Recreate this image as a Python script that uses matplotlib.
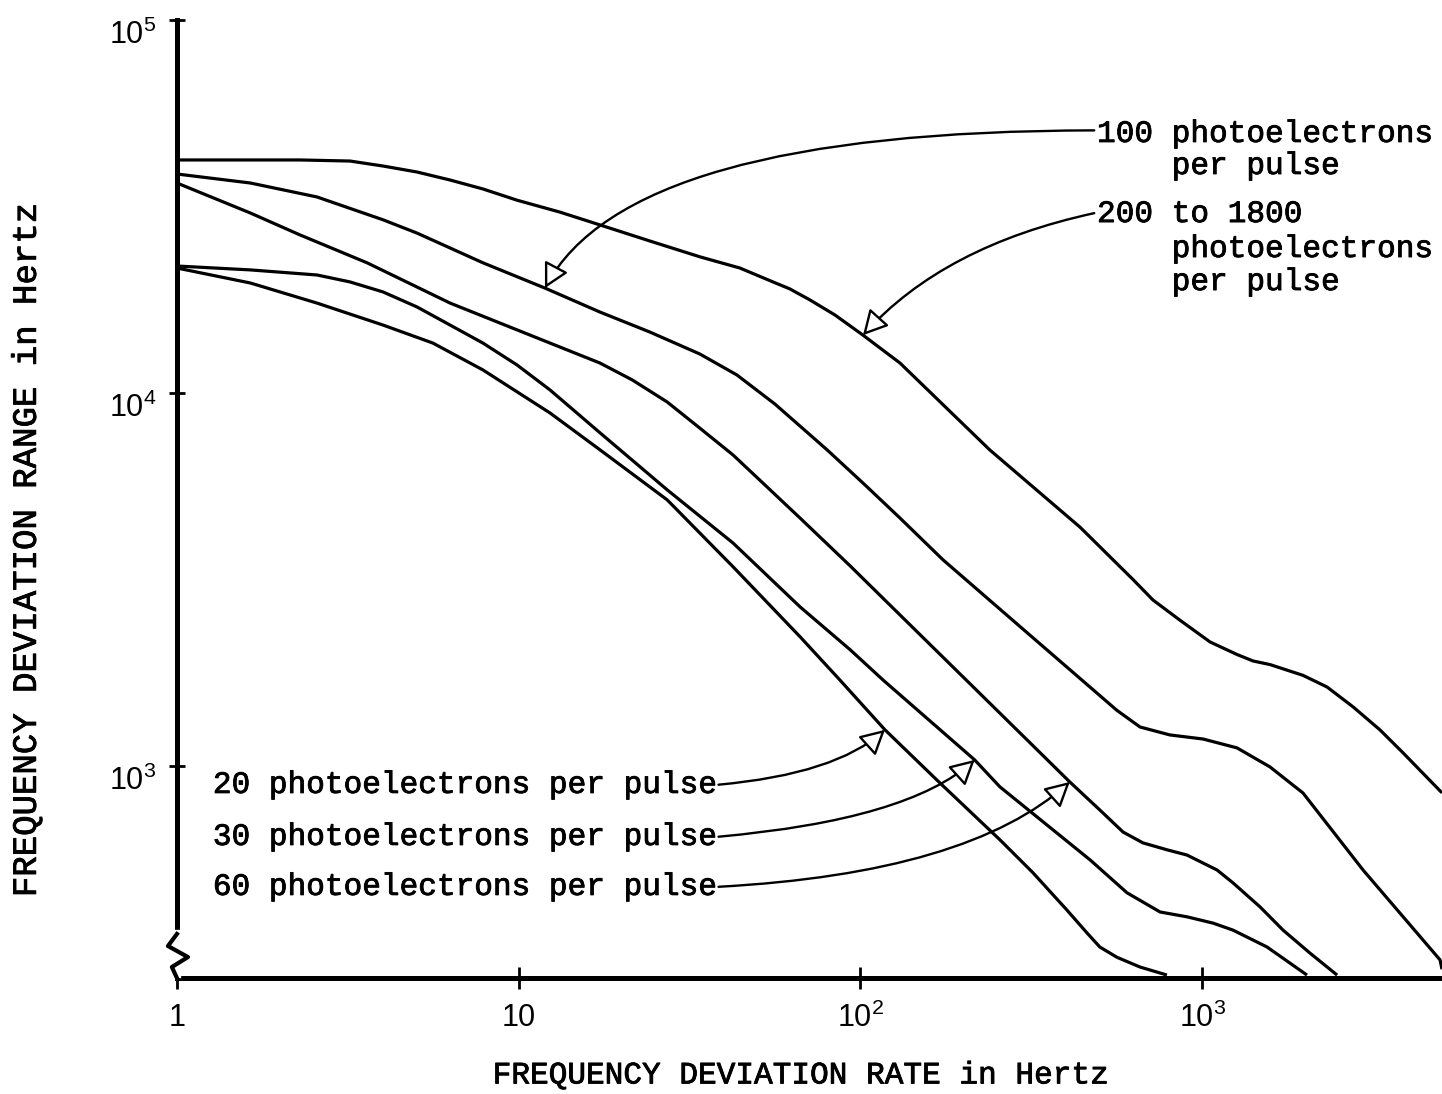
import numpy as np
import matplotlib.pyplot as plt
import matplotlib.patheffects as pe

plt.rcParams['mathtext.fontset'] = 'custom'
plt.rcParams['mathtext.rm'] = 'Liberation Sans'
plt.rcParams['mathtext.default'] = 'rm'

# deviation rate (Hz) vs. deviation range (Hz), one curve per photoelectron count
rate_200_1800 = [1, 1.64, 2.29, 3.21, 4.01, 5.04, 6.30, 7.86, 9.89, 13.2, 17.3, 24.2, 33.9, 44.4,
                 55.5, 62.2, 71.2, 84.3, 101.8, 130.6, 239, 439, 628, 718, 861, 1055, 1265,
                 1409, 1580, 1972, 2321, 2766, 3316, 3874, 5035]
range_200_1800 = [42150, 42150, 42150, 41870, 40600, 39130, 37240, 35240, 32880, 30550, 28220, 25560, 23180, 21630,
                  19850, 19010, 17760, 16180, 14290, 12030, 7040, 4370, 3160, 2786, 2460, 2150, 1990,
                  1912, 1870, 1750, 1628, 1440, 1249, 1084, 847]

rate_100 = [1, 1.64, 2.57, 4.01, 5.04, 7.86, 11.94, 17.3, 24.2, 33.9, 43.5, 56.2, 79.9, 103.2,
            130.6, 174.5, 313, 563, 658, 805, 1006, 1265, 1580, 1974, 2958, 4969, 5035]
range_100 = [38650, 36560, 33540, 29130, 26840, 22340, 19110, 16480, 14570, 12720, 11180, 9343, 7040, 5667,
             4620, 3570, 2245, 1410, 1272, 1211, 1181, 1118, 994, 846, 526, 302, 285]

rate_60 = [1, 1.64, 2.29, 3.60, 6.30, 12.35, 17.3, 21.5, 27.2, 33.9, 42.4, 53.3, 66.6, 93.3,
           130.6, 232, 410, 502, 587, 671, 789, 903, 1106, 1231, 1477, 1725, 2068, 2483]
range_60 = [36560, 30380, 26540, 22340, 17420, 13610, 12030, 10840, 9460, 8050, 6820, 5600, 4620, 3440,
            2540, 1514, 906, 762, 665, 622, 596, 577, 526, 486, 419, 363, 315, 275]

rate_30 = [1, 1.64, 2.57, 3.21, 4.01, 5.04, 6.30, 7.86, 9.89, 12.35, 17.3, 27.2, 42.4, 66.6,
           93.3, 116.5, 216, 256, 470, 603, 753, 903, 1076, 1231, 1549, 2027]
range_30 = [21900, 21380, 20720, 19850, 18660, 17010, 15210, 13610, 11890, 10190, 7820, 5500, 3960, 2670,
            2050, 1700, 1038, 879, 560, 457, 406, 394, 379, 363, 327, 275]

rate_20 = [1, 1.64, 2.57, 4.01, 5.61, 7.86, 12.35, 17.3, 27.2, 42.4, 66.6, 87.1, 118, 171,
           256, 320, 402, 460, 502, 563, 658, 789]
range_20 = [21630, 19720, 17420, 15210, 13610, 11530, 8840, 7040, 5170, 3420, 2220, 1700, 1250, 900,
            634, 517, 411, 357, 327, 307, 289, 275]

x_ticks = [1, 10, 100, 1000]
x_tick_labels = ['1', '10', '$10^2$', '$10^3$']
y_ticks = [1e3, 1e4, 1e5]
y_tick_labels = ['$10^3$', '$10^4$', '$10^5$']

# typewriter lettering: regular Courier-style face, slightly thickened
INK = [pe.withStroke(linewidth=0.6, foreground='black')]
TYPE = dict(family='Liberation Mono', fontsize=22.4, path_effects=INK)


def on_curve(rate, rng, x):
    """y of a curve at rate x, read along the log-log polyline"""
    return 10 ** np.interp(np.log10(x), np.log10(rate), np.log10(rng))


fig = plt.figure(figsize=(14.42, 10.94), dpi=100)
ax = fig.add_axes([0.1227, 0.1060, 0.8773, 0.8757])
ax.set_xscale('log')
ax.set_yscale('log')
ax.set_xlim(1, 5035)
ax.set_ylim(270, 1e5)

for spine in ['top', 'right']:
    ax.spines[spine].set_visible(False)
for spine in ['left', 'bottom']:
    ax.spines[spine].set_linewidth(3.6)

ax.set_xticks(x_ticks)
ax.set_xticklabels(x_tick_labels)
ax.set_yticks(y_ticks)
ax.set_yticklabels(y_tick_labels)
ax.xaxis.set_minor_locator(plt.NullLocator())
ax.yaxis.set_minor_locator(plt.NullLocator())
ax.tick_params(axis='x', direction='inout', length=16, width=2, pad=10, labelsize=22)
ax.tick_params(axis='y', direction='inout', length=12, width=2, pad=9, labelsize=22)
for lbl in ax.get_yticklabels():
    lbl.set_verticalalignment('top')
for lbl in ax.get_xticklabels() + ax.get_yticklabels():
    lbl.set_family('Liberation Sans')

# broken-axis mark near the bottom of the y axis
ax.plot([0, 0], [0.004, 0.046], transform=ax.transAxes, color='white', lw=6,
        clip_on=False, zorder=5)
ax.plot([0, -0.0071, 0.0087, -0.0040, 0.0], [0.046, 0.0334, 0.0219, 0.0115, 0.0],
        transform=ax.transAxes, color='black', lw=3, clip_on=False, zorder=6,
        solid_joinstyle='round')

curves = [(rate_200_1800, range_200_1800), (rate_100, range_100), (rate_60, range_60),
          (rate_30, range_30), (rate_20, range_20)]
for rate, rng in curves:
    ax.plot(rate, rng, color='black', lw=2.3, solid_joinstyle='round', solid_capstyle='butt')

ax.set_xlabel('FREQUENCY DEVIATION RATE in Hertz', **TYPE)
ax.set_ylabel('FREQUENCY DEVIATION RANGE in Hertz', **dict(TYPE, fontsize=24.5))
ax.xaxis.set_label_coords(0.4925, -0.086)
ax.yaxis.set_label_coords(-0.106, 0.446)


def arrow_props(angle_a, angle_b, rel):
    return dict(arrowstyle='-|>,head_length=1.5,head_width=0.8', mutation_scale=10,
                fc='white', ec='black', lw=1.7, shrinkA=0, shrinkB=0, relpos=rel,
                connectionstyle=f'angle3,angleA={angle_a},angleB={angle_b}')


# upper-right labels, leader runs from the left end of the first line
ax.annotate('100 photoelectrons', xy=(11.94, on_curve(rate_100, range_100, 11.94)),
            xytext=(492.6, 47100), ha='left', va='baseline', zorder=7,
            arrowprops=arrow_props(0, 62, (0, 0.62)), **TYPE)
ax.text(492.6, 38650, '    per pulse', ha='left', va='baseline', **TYPE)

ax.annotate('200 to 1800', xy=(101.8, on_curve(rate_200_1800, range_200_1800, 101.8)),
            xytext=(492.6, 28730), ha='left', va='baseline', zorder=7,
            arrowprops=arrow_props(12, 48, (0, 0.55)), **TYPE)
ax.text(492.6, 23150, '    photoelectrons', ha='left', va='baseline', **TYPE)
ax.text(492.6, 18880, '    per pulse', ha='left', va='baseline', **TYPE)

# lower-left labels, leader runs from the right end of the text
low_labels = [('20 photoelectrons per pulse', 846.5, rate_20, range_20, 118, 5),
              ('30 photoelectrons per pulse', 614, rate_30, range_30, 216, 5),
              ('60 photoelectrons per pulse', 451, rate_60, range_60, 410, 3)]
for text, y_base, rate, rng, x_tip, ang in low_labels:
    ax.annotate(text, xy=(x_tip, on_curve(rate, rng, x_tip)), xytext=(1.274, y_base),
                ha='left', va='baseline', zorder=7,
                arrowprops=arrow_props(ang, 42, (1, 0.5)), **TYPE)

fig.savefig('out.png', dpi=100)
